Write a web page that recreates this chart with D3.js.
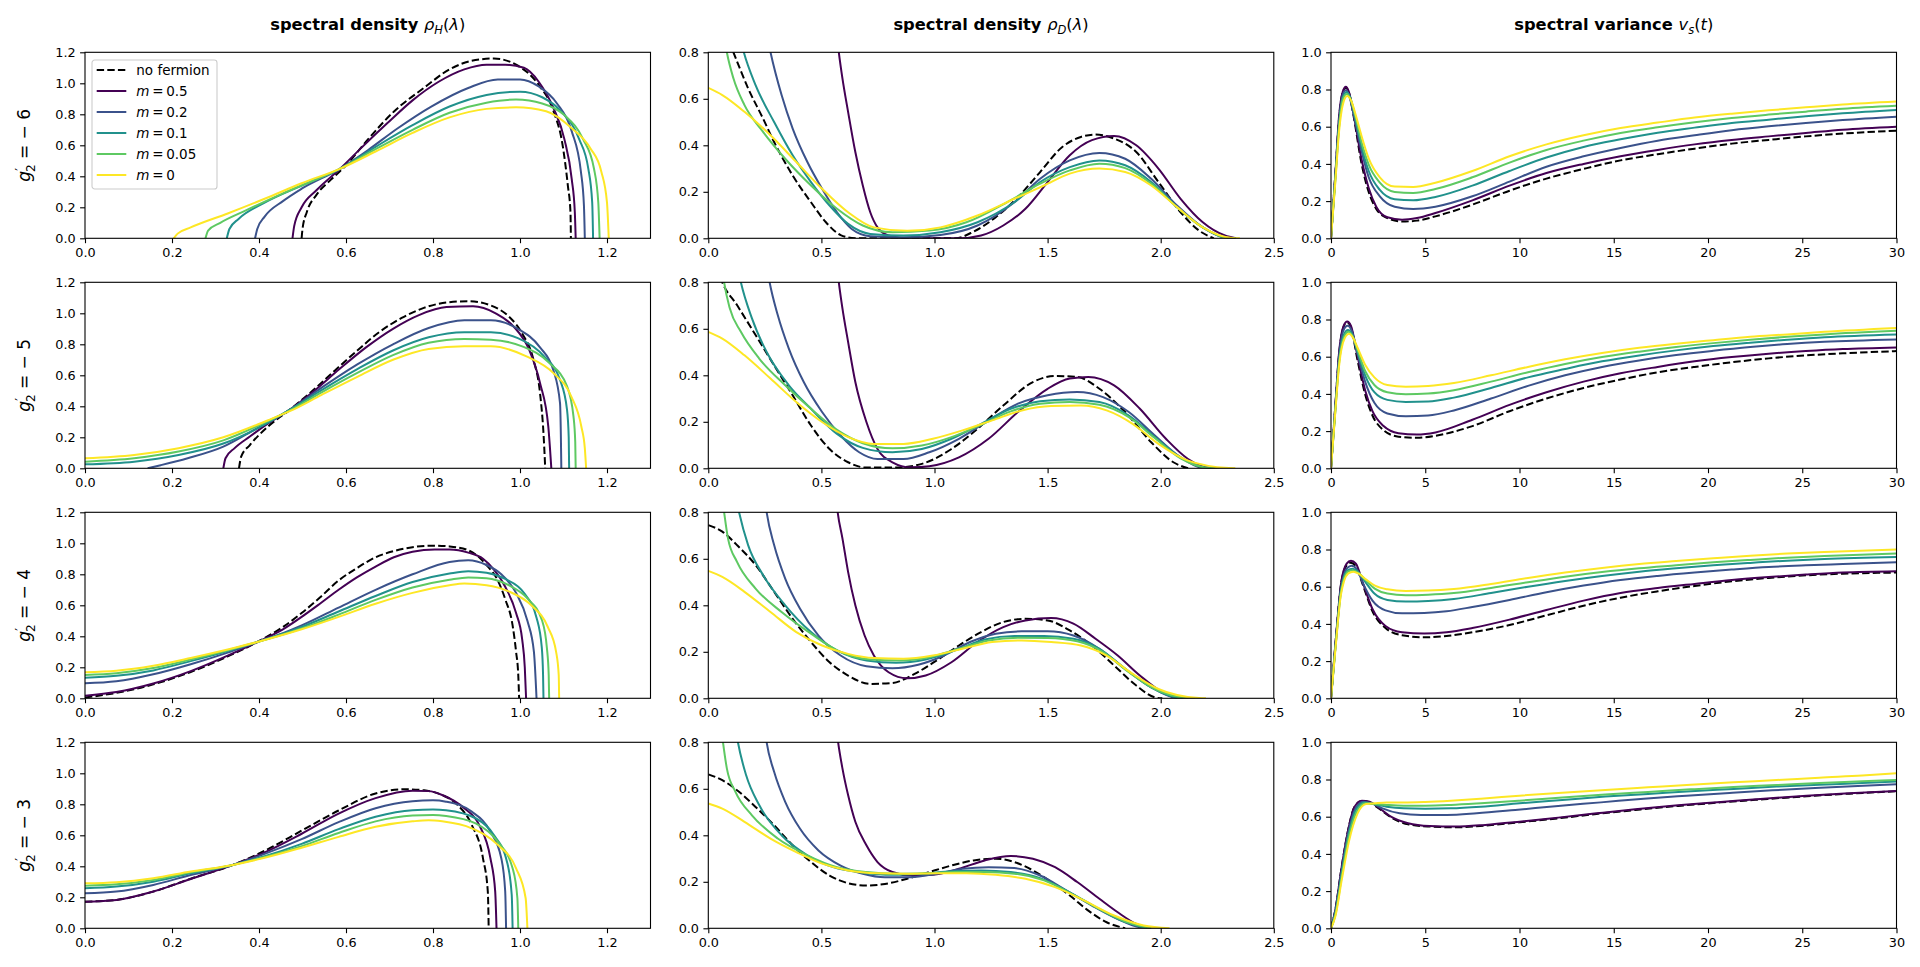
<!DOCTYPE html>
<html><head><meta charset="utf-8">
<script src="https://cdn.jsdelivr.net/npm/d3@7"></script>
<style>body{margin:0;background:#fff}svg{display:block}text{font-family:"DejaVu Sans",sans-serif}</style>
</head><body><svg id="c" width="1920" height="967"></svg>
<script>
// ---------- series meta ----------
const seriesNames = ['no fermion', '0.5', '0.2', '0.1', '0.05', '0'];
const seriesColors = ['#000000', '#440154', '#3b528b', '#21918c', '#5ec962', '#fde725'];
const rowLabels = ['6', '5', '4', '3'];

// ---------- ticks ----------
const ticksH_x = [0, 0.2, 0.4, 0.6, 0.8, 1.0, 1.2];
const ticksH_y = [0, 0.2, 0.4, 0.6, 0.8, 1.0, 1.2];
const ticksD_x = [0, 0.5, 1.0, 1.5, 2.0, 2.5];
const ticksD_y = [0, 0.2, 0.4, 0.6, 0.8];
const ticksV_x = [0, 5, 10, 15, 20, 25, 30];
const ticksV_y = [0, 0.2, 0.4, 0.6, 0.8, 1.0];

// ---------- rho_H, g2' = -6 ----------
const H6_nf = [[0.498,0],[0.5,0.06],[0.51,0.17],[0.532,0.28],[0.566,0.38],[0.6,0.47],[0.651,0.64],[0.711,0.82],[0.779,0.97],[0.838,1.09],[0.889,1.145],[0.94,1.16],[0.991,1.12],[1.043,0.99],[1.077,0.82],[1.098,0.6],[1.11,0.34],[1.116,0.17],[1.117,0]];
const H6_m05 = [[0.477,0],[0.481,0.08],[0.498,0.2],[0.532,0.31],[0.587,0.45],[0.634,0.58],[0.694,0.74],[0.753,0.89],[0.813,1.01],[0.872,1.09],[0.923,1.12],[0.966,1.12],[1.009,1.1],[1.043,1.01],[1.077,0.84],[1.102,0.64],[1.119,0.38],[1.126,0.17],[1.128,0]];
const H6_m02 = [[0.391,0],[0.396,0.06],[0.413,0.14],[0.455,0.24],[0.498,0.32],[0.587,0.45],[0.651,0.57],[0.719,0.71],[0.796,0.85],[0.881,0.97],[0.949,1.025],[1.0,1.025],[1.043,0.98],[1.085,0.87],[1.119,0.69],[1.14,0.43],[1.147,0.21],[1.149,0]];
const H6_m01 = [[0.326,0],[0.332,0.06],[0.353,0.125],[0.413,0.23],[0.498,0.34],[0.587,0.45],[0.668,0.59],[0.753,0.73],[0.838,0.85],[0.923,0.925],[1.0,0.946],[1.051,0.91],[1.094,0.82],[1.136,0.64],[1.157,0.45],[1.166,0.23],[1.168,0]];
const H6_m005 = [[0.277,0],[0.283,0.05],[0.311,0.1],[0.37,0.18],[0.455,0.29],[0.587,0.45],[0.668,0.575],[0.753,0.7],[0.838,0.81],[0.923,0.875],[0.991,0.895],[1.051,0.87],[1.102,0.795],[1.145,0.64],[1.17,0.45],[1.18,0.23],[1.183,0]];
const H6_m0 = [[0.204,0],[0.213,0.03],[0.243,0.07],[0.328,0.16],[0.413,0.255],[0.498,0.355],[0.587,0.45],[0.668,0.56],[0.753,0.68],[0.838,0.78],[0.923,0.835],[0.991,0.845],[1.06,0.82],[1.119,0.71],[1.162,0.58],[1.187,0.43],[1.2,0.23],[1.204,0]];

// ---------- rho_H, g2' = -5 ----------
const H5_nf = [[0.354,0],[0.359,0.075],[0.379,0.15],[0.421,0.27],[0.472,0.38],[0.523,0.5],[0.574,0.63],[0.626,0.76],[0.677,0.88],[0.728,0.97],[0.779,1.035],[0.831,1.07],[0.882,1.078],[0.933,1.05],[0.974,0.98],[1.005,0.87],[1.031,0.7],[1.046,0.485],[1.054,0.226],[1.058,0]];
const H5_m05 = [[0.318,0],[0.323,0.065],[0.344,0.13],[0.379,0.205],[0.421,0.29],[0.472,0.38],[0.523,0.49],[0.585,0.64],[0.646,0.78],[0.708,0.9],[0.769,0.99],[0.831,1.04],[0.892,1.045],[0.944,1.0],[0.985,0.916],[1.021,0.765],[1.046,0.55],[1.065,0.27],[1.072,0]];
const H5_m02 = [[0.144,0],[0.174,0.02],[0.236,0.065],[0.318,0.14],[0.39,0.25],[0.472,0.38],[0.544,0.52],[0.626,0.67],[0.708,0.8],[0.79,0.905],[0.872,0.955],[0.933,0.955],[0.995,0.9],[1.046,0.78],[1.077,0.63],[1.092,0.42],[1.094,0.2],[1.095,0]];
const H5_m01 = [[0,0.026],[0.113,0.043],[0.215,0.086],[0.318,0.16],[0.421,0.295],[0.472,0.38],[0.544,0.505],[0.626,0.64],[0.708,0.76],[0.79,0.845],[0.872,0.878],[0.933,0.877],[0.995,0.84],[1.056,0.72],[1.092,0.57],[1.108,0.38],[1.112,0.2],[1.113,0]];
const H5_m005 = [[0,0.043],[0.113,0.065],[0.215,0.108],[0.318,0.18],[0.421,0.305],[0.472,0.375],[0.544,0.49],[0.626,0.615],[0.708,0.73],[0.79,0.81],[0.872,0.835],[0.933,0.83],[1.005,0.787],[1.067,0.68],[1.108,0.53],[1.123,0.334],[1.127,0.17],[1.128,0]];
const H5_m0 = [[0,0.065],[0.113,0.086],[0.215,0.13],[0.318,0.2],[0.421,0.31],[0.472,0.37],[0.544,0.474],[0.626,0.59],[0.708,0.7],[0.79,0.77],[0.872,0.787],[0.933,0.787],[1.015,0.722],[1.077,0.614],[1.118,0.463],[1.141,0.27],[1.149,0.13],[1.152,0]];

// ---------- rho_H, g2' = -4 ----------
const H4_nf = [[0,0.005],[0.072,0.035],[0.157,0.09],[0.243,0.17],[0.328,0.27],[0.396,0.363],[0.455,0.46],[0.498,0.55],[0.54,0.65],[0.583,0.76],[0.625,0.84],[0.668,0.91],[0.71,0.95],[0.753,0.975],[0.804,0.985],[0.838,0.98],[0.881,0.955],[0.906,0.91],[0.923,0.86],[0.949,0.76],[0.966,0.64],[0.983,0.47],[0.991,0.3],[0.996,0.15],[0.998,0]];
const H4_m05 = [[0,0.017],[0.072,0.04],[0.157,0.095],[0.243,0.175],[0.328,0.275],[0.396,0.363],[0.455,0.445],[0.498,0.525],[0.54,0.61],[0.583,0.7],[0.625,0.78],[0.668,0.85],[0.71,0.91],[0.753,0.945],[0.804,0.96],[0.838,0.96],[0.881,0.94],[0.915,0.9],[0.94,0.83],[0.966,0.72],[0.991,0.55],[1.005,0.38],[1.011,0.2],[1.014,0]];
const H4_m02 = [[0,0.097],[0.072,0.11],[0.157,0.155],[0.243,0.22],[0.328,0.295],[0.396,0.363],[0.455,0.42],[0.498,0.47],[0.583,0.585],[0.668,0.7],[0.753,0.8],[0.838,0.88],[0.881,0.89],[0.923,0.86],[0.957,0.8],[0.991,0.68],[1.017,0.5],[1.032,0.3],[1.038,0]];
const H4_m01 = [[0,0.132],[0.072,0.145],[0.157,0.18],[0.243,0.24],[0.328,0.305],[0.396,0.363],[0.498,0.46],[0.583,0.56],[0.668,0.66],[0.753,0.75],[0.838,0.805],[0.881,0.82],[0.923,0.81],[0.966,0.77],[1.009,0.68],[1.038,0.52],[1.05,0.33],[1.053,0.15],[1.054,0]];
const H4_m005 = [[0,0.151],[0.072,0.162],[0.157,0.195],[0.243,0.25],[0.328,0.31],[0.396,0.363],[0.498,0.45],[0.583,0.54],[0.668,0.635],[0.753,0.715],[0.838,0.765],[0.881,0.78],[0.923,0.775],[0.974,0.73],[1.017,0.645],[1.051,0.5],[1.062,0.32],[1.066,0.15],[1.067,0]];
const H4_m0 = [[0,0.168],[0.072,0.178],[0.157,0.21],[0.243,0.26],[0.328,0.315],[0.396,0.363],[0.498,0.445],[0.583,0.525],[0.668,0.61],[0.753,0.68],[0.838,0.73],[0.872,0.74],[0.923,0.73],[0.974,0.69],[1.026,0.6],[1.064,0.46],[1.083,0.3],[1.089,0.15],[1.09,0]];

// ---------- rho_H, g2' = -3 ----------
const H3_nf = [[0,0.172],[0.072,0.183],[0.157,0.237],[0.243,0.32],[0.34,0.409],[0.413,0.5],[0.498,0.63],[0.583,0.76],[0.668,0.87],[0.736,0.897],[0.78,0.89],[0.821,0.86],[0.855,0.8],[0.889,0.667],[0.915,0.45],[0.926,0.237],[0.928,0]];
const H3_m05 = [[0,0.172],[0.072,0.183],[0.157,0.237],[0.243,0.318],[0.34,0.409],[0.413,0.49],[0.498,0.61],[0.583,0.74],[0.668,0.84],[0.753,0.888],[0.79,0.885],[0.821,0.86],[0.872,0.774],[0.906,0.667],[0.932,0.452],[0.943,0.237],[0.946,0]];
const H3_m02 = [[0,0.226],[0.072,0.237],[0.157,0.28],[0.243,0.344],[0.34,0.409],[0.413,0.48],[0.498,0.575],[0.583,0.685],[0.668,0.775],[0.753,0.82],[0.8,0.826],[0.83,0.817],[0.889,0.753],[0.932,0.624],[0.957,0.452],[0.966,0.237],[0.968,0]];
const H3_m01 = [[0,0.258],[0.072,0.269],[0.157,0.301],[0.243,0.355],[0.34,0.409],[0.413,0.465],[0.498,0.545],[0.583,0.64],[0.668,0.72],[0.753,0.762],[0.8,0.766],[0.83,0.761],[0.898,0.71],[0.94,0.602],[0.97,0.43],[0.981,0.215],[0.983,0]];
const H3_m005 = [[0,0.275],[0.072,0.284],[0.157,0.312],[0.243,0.361],[0.34,0.409],[0.413,0.46],[0.498,0.53],[0.583,0.615],[0.668,0.69],[0.753,0.727],[0.8,0.731],[0.83,0.725],[0.898,0.677],[0.949,0.559],[0.983,0.387],[0.994,0.194],[0.996,0]];
const H3_m0 = [[0,0.29],[0.072,0.297],[0.157,0.323],[0.243,0.366],[0.34,0.409],[0.413,0.455],[0.498,0.52],[0.583,0.59],[0.668,0.655],[0.753,0.69],[0.79,0.697],[0.821,0.69],[0.889,0.645],[0.949,0.538],[0.991,0.387],[1.013,0.194],[1.017,0]];

// ---------- rho_D, g2' = -6 ----------
const D6_nf = [[0,1.15],[0.05,0.95],[0.111,0.8],[0.176,0.645],[0.242,0.515],[0.291,0.414],[0.373,0.27],[0.454,0.155],[0.52,0.069],[0.585,0.014],[0.65,0],[1.092,0],[1.173,0.029],[1.271,0.091],[1.369,0.177],[1.467,0.285],[1.565,0.393],[1.647,0.436],[1.712,0.446],[1.794,0.429],[1.892,0.371],[1.99,0.242],[2.088,0.112],[2.17,0.033],[2.235,0]];
const D6_m05 = [[0.555,1.0],[0.577,0.8],[0.593,0.688],[0.618,0.544],[0.65,0.371],[0.683,0.227],[0.716,0.112],[0.748,0.047],[0.797,0.012],[0.879,0],[1.108,0],[1.206,0.012],[1.304,0.055],[1.402,0.127],[1.5,0.242],[1.598,0.357],[1.696,0.422],[1.794,0.44],[1.892,0.4],[1.99,0.3],[2.088,0.17],[2.186,0.069],[2.284,0.012],[2.333,0]];
const D6_m02 = [[0.25,0.92],[0.275,0.8],[0.324,0.616],[0.373,0.472],[0.438,0.328],[0.503,0.213],[0.569,0.112],[0.634,0.04],[0.716,0.009],[0.863,0.004],[1.026,0.014],[1.19,0.055],[1.353,0.155],[1.467,0.256],[1.598,0.335],[1.729,0.367],[1.843,0.342],[1.958,0.256],[2.072,0.141],[2.186,0.047],[2.284,0.003],[2.32,0]];
const D6_m01 = [[0.127,0.92],[0.157,0.8],[0.209,0.659],[0.291,0.5],[0.373,0.357],[0.454,0.242],[0.536,0.141],[0.618,0.062],[0.716,0.019],[0.863,0.012],[1.026,0.026],[1.19,0.069],[1.353,0.155],[1.467,0.242],[1.598,0.306],[1.729,0.335],[1.843,0.314],[1.958,0.242],[2.072,0.134],[2.186,0.047],[2.284,0.003],[2.33,0]];
const D6_m005 = [[0.062,0.92],[0.082,0.8],[0.111,0.688],[0.16,0.573],[0.242,0.458],[0.34,0.342],[0.454,0.227],[0.569,0.127],[0.683,0.055],[0.814,0.026],[0.977,0.033],[1.141,0.069],[1.32,0.155],[1.467,0.235],[1.598,0.292],[1.729,0.321],[1.843,0.302],[1.958,0.235],[2.072,0.134],[2.186,0.047],[2.3,0.001],[2.33,0]];
const D6_m0 = [[0,0.647],[0.062,0.616],[0.16,0.544],[0.275,0.443],[0.389,0.328],[0.503,0.213],[0.618,0.112],[0.732,0.047],[0.879,0.032],[1.026,0.047],[1.19,0.098],[1.353,0.17],[1.484,0.227],[1.598,0.278],[1.729,0.3],[1.843,0.285],[1.958,0.227],[2.072,0.134],[2.186,0.047],[2.317,0.001],[2.35,0]];

// ---------- rho_D, g2' = -5 ----------
const D5_nf = [[0,1.0],[0.03,0.89],[0.062,0.8],[0.127,0.702],[0.209,0.573],[0.291,0.443],[0.373,0.314],[0.454,0.184],[0.536,0.083],[0.618,0.026],[0.699,0.003],[0.83,0.003],[0.944,0.019],[1.075,0.083],[1.19,0.17],[1.304,0.27],[1.435,0.371],[1.533,0.397],[1.631,0.393],[1.729,0.342],[1.843,0.242],[1.958,0.112],[2.056,0.026],[2.121,0]];
const D5_m05 = [[0.555,1.0],[0.577,0.8],[0.593,0.688],[0.618,0.544],[0.65,0.371],[0.699,0.199],[0.748,0.083],[0.814,0.026],[0.895,0.004],[0.977,0.009],[1.108,0.047],[1.239,0.127],[1.369,0.242],[1.5,0.342],[1.598,0.386],[1.68,0.393],[1.794,0.357],[1.908,0.256],[2.023,0.127],[2.121,0.04],[2.219,0.001],[2.25,0]];
const D5_m02 = [[0.25,0.92],[0.271,0.8],[0.307,0.659],[0.356,0.515],[0.422,0.371],[0.503,0.242],[0.585,0.141],[0.667,0.069],[0.748,0.04],[0.863,0.04],[0.977,0.069],[1.108,0.127],[1.239,0.206],[1.369,0.278],[1.5,0.314],[1.631,0.328],[1.745,0.306],[1.859,0.242],[1.974,0.141],[2.088,0.047],[2.186,0.001],[2.22,0]];
const D5_m01 = [[0.119,0.92],[0.144,0.8],[0.193,0.645],[0.258,0.5],[0.356,0.357],[0.454,0.256],[0.569,0.148],[0.683,0.088],[0.814,0.069],[0.944,0.083],[1.075,0.127],[1.206,0.191],[1.337,0.256],[1.467,0.288],[1.598,0.296],[1.729,0.285],[1.859,0.227],[1.974,0.134],[2.088,0.047],[2.203,0.001],[2.24,0]];
const D5_m005 = [[0.054,0.92],[0.07,0.8],[0.095,0.688],[0.144,0.587],[0.225,0.472],[0.34,0.357],[0.454,0.256],[0.569,0.165],[0.683,0.108],[0.814,0.086],[0.944,0.098],[1.075,0.134],[1.206,0.187],[1.337,0.245],[1.467,0.278],[1.598,0.285],[1.729,0.273],[1.859,0.22],[1.974,0.13],[2.088,0.043],[2.219,0.001],[2.26,0]];
const D5_m0 = [[0,0.587],[0.062,0.558],[0.16,0.486],[0.275,0.386],[0.389,0.285],[0.503,0.199],[0.618,0.134],[0.732,0.105],[0.863,0.105],[0.993,0.127],[1.124,0.163],[1.255,0.206],[1.386,0.249],[1.516,0.268],[1.647,0.27],[1.761,0.249],[1.876,0.191],[1.99,0.105],[2.121,0.033],[2.301,0.001],[2.33,0]];

// ---------- rho_D, g2' = -4 ----------
const D4_nf = [[0,0.745],[0.062,0.717],[0.127,0.659],[0.209,0.573],[0.291,0.458],[0.373,0.342],[0.454,0.242],[0.536,0.155],[0.618,0.098],[0.716,0.062],[0.814,0.066],[0.912,0.105],[1.01,0.163],[1.108,0.227],[1.206,0.285],[1.304,0.328],[1.402,0.342],[1.5,0.335],[1.598,0.292],[1.696,0.227],[1.794,0.141],[1.892,0.055],[1.974,0.004],[2.007,0]];
const D4_m05 = [[0.556,0.95],[0.572,0.8],[0.593,0.688],[0.618,0.544],[0.65,0.4],[0.691,0.27],[0.732,0.184],[0.797,0.112],[0.879,0.086],[0.961,0.098],[1.075,0.155],[1.19,0.242],[1.304,0.306],[1.402,0.335],[1.516,0.345],[1.614,0.321],[1.712,0.256],[1.81,0.184],[1.908,0.098],[2.007,0.026],[2.072,0]];
const D4_m02 = [[0.242,0.92],[0.258,0.8],[0.291,0.659],[0.34,0.515],[0.405,0.386],[0.487,0.27],[0.585,0.184],[0.699,0.138],[0.814,0.129],[0.928,0.144],[1.042,0.184],[1.157,0.242],[1.271,0.278],[1.386,0.288],[1.5,0.288],[1.614,0.27],[1.729,0.213],[1.843,0.127],[1.958,0.047],[2.072,0.001],[2.1,0]];
const D4_m01 = [[0.111,0.92],[0.136,0.8],[0.176,0.659],[0.242,0.53],[0.34,0.4],[0.454,0.285],[0.569,0.206],[0.699,0.163],[0.83,0.153],[0.961,0.167],[1.092,0.206],[1.222,0.253],[1.353,0.268],[1.484,0.268],[1.614,0.256],[1.729,0.213],[1.843,0.127],[1.958,0.047],[2.088,0.001],[2.12,0]];
const D4_m005 = [[0.054,0.92],[0.07,0.8],[0.087,0.688],[0.127,0.587],[0.209,0.472],[0.324,0.371],[0.454,0.278],[0.585,0.199],[0.716,0.167],[0.846,0.163],[0.977,0.177],[1.108,0.213],[1.239,0.249],[1.369,0.26],[1.5,0.259],[1.631,0.245],[1.745,0.199],[1.859,0.112],[1.974,0.04],[2.121,0.001],[2.15,0]];
const D4_m0 = [[0,0.548],[0.062,0.522],[0.16,0.458],[0.275,0.371],[0.389,0.285],[0.503,0.227],[0.618,0.191],[0.732,0.173],[0.863,0.17],[0.993,0.184],[1.124,0.213],[1.255,0.242],[1.386,0.249],[1.516,0.242],[1.647,0.227],[1.761,0.184],[1.876,0.105],[1.99,0.04],[2.17,0.001],[2.2,0]];

// ---------- rho_D, g2' = -3 ----------
const D3_nf = [[0,0.662],[0.062,0.637],[0.127,0.594],[0.209,0.522],[0.291,0.443],[0.373,0.357],[0.454,0.285],[0.536,0.227],[0.618,0.194],[0.699,0.184],[0.781,0.191],[0.879,0.213],[0.977,0.242],[1.075,0.27],[1.173,0.292],[1.271,0.299],[1.353,0.285],[1.435,0.249],[1.516,0.199],[1.598,0.141],[1.68,0.076],[1.761,0.026],[1.843,0]];
const D3_m05 = [[0.556,0.95],[0.574,0.8],[0.593,0.688],[0.618,0.573],[0.65,0.458],[0.699,0.357],[0.748,0.285],[0.814,0.242],[0.895,0.227],[0.993,0.23],[1.108,0.256],[1.222,0.292],[1.337,0.311],[1.435,0.299],[1.533,0.263],[1.631,0.199],[1.729,0.127],[1.81,0.069],[1.892,0.019],[1.958,0]];
const D3_m02 = [[0.242,0.92],[0.258,0.8],[0.291,0.673],[0.34,0.544],[0.405,0.429],[0.487,0.335],[0.585,0.27],[0.683,0.235],[0.781,0.22],[0.895,0.22],[1.01,0.235],[1.124,0.256],[1.239,0.263],[1.353,0.259],[1.467,0.227],[1.582,0.163],[1.696,0.098],[1.81,0.04],[1.908,0.004],[1.958,0]];
const D3_m01 = [[0.111,0.92],[0.131,0.8],[0.167,0.659],[0.225,0.53],[0.324,0.4],[0.438,0.314],[0.552,0.263],[0.683,0.239],[0.814,0.23],[0.944,0.235],[1.075,0.245],[1.206,0.249],[1.337,0.242],[1.467,0.216],[1.598,0.155],[1.712,0.091],[1.827,0.033],[1.941,0]];
const D3_m005 = [[0.05,0.92],[0.065,0.8],[0.082,0.688],[0.12,0.587],[0.193,0.486],[0.307,0.386],[0.438,0.314],[0.569,0.263],[0.699,0.242],[0.83,0.235],[0.961,0.237],[1.092,0.242],[1.222,0.242],[1.353,0.235],[1.484,0.206],[1.614,0.144],[1.729,0.083],[1.843,0.029],[1.958,0]];
const D3_m0 = [[0,0.537],[0.062,0.515],[0.16,0.458],[0.275,0.386],[0.389,0.328],[0.503,0.278],[0.618,0.249],[0.748,0.237],[0.879,0.235],[1.01,0.237],[1.141,0.237],[1.271,0.23],[1.402,0.213],[1.533,0.177],[1.663,0.119],[1.794,0.055],[1.925,0.012],[2.039,0]];

// ---------- v_s, g2' = -6 ----------
const V6_nf = [[0,0],[0.24,0.36],[0.43,0.645],[0.63,0.787],[0.79,0.81],[0.94,0.787],[1.22,0.645],[1.61,0.407],[2.0,0.249],[2.4,0.158],[2.99,0.109],[3.77,0.09],[4.56,0.095],[5.54,0.118],[7.5,0.181],[9.47,0.256],[11.43,0.321],[13.4,0.373],[15.36,0.419],[17.33,0.452],[19.29,0.482],[21.26,0.509],[23.22,0.529],[25.19,0.548],[27.15,0.563],[30,0.579]];
const V6_m05 = [[0,0],[0.24,0.36],[0.43,0.66],[0.63,0.79],[0.79,0.815],[0.94,0.79],[1.22,0.656],[1.61,0.43],[2.0,0.27],[2.4,0.17],[2.99,0.113],[3.77,0.1],[4.56,0.109],[5.54,0.136],[7.5,0.204],[9.47,0.283],[11.43,0.351],[13.4,0.4],[15.36,0.441],[17.33,0.475],[19.29,0.505],[21.26,0.529],[23.22,0.548],[25.19,0.566],[27.15,0.584],[30,0.6]];
const V6_m02 = [[0,0],[0.24,0.35],[0.43,0.633],[0.63,0.774],[0.79,0.796],[0.94,0.774],[1.22,0.656],[1.61,0.475],[2.0,0.328],[2.59,0.226],[3.38,0.17],[4.36,0.158],[5.54,0.17],[7.5,0.226],[9.47,0.305],[11.43,0.385],[13.4,0.441],[15.36,0.486],[17.33,0.525],[19.29,0.554],[21.26,0.581],[23.22,0.602],[25.19,0.62],[27.15,0.636],[30,0.654]];
const V6_m01 = [[0,0],[0.24,0.34],[0.43,0.61],[0.63,0.758],[0.83,0.787],[1.02,0.758],[1.32,0.633],[1.61,0.498],[2.0,0.362],[2.59,0.26],[3.38,0.21],[4.36,0.204],[5.54,0.222],[7.5,0.283],[9.47,0.362],[11.43,0.434],[13.4,0.491],[15.36,0.532],[17.33,0.568],[19.29,0.595],[21.26,0.62],[23.22,0.638],[25.19,0.656],[27.15,0.672],[30,0.69]];
const V6_m005 = [[0,0],[0.24,0.328],[0.43,0.6],[0.63,0.747],[0.83,0.776],[1.02,0.751],[1.32,0.645],[1.61,0.52],[2.0,0.396],[2.59,0.299],[3.38,0.249],[4.36,0.244],[5.54,0.265],[7.5,0.328],[9.47,0.407],[11.43,0.475],[13.4,0.525],[15.36,0.566],[17.33,0.597],[19.29,0.624],[21.26,0.647],[23.22,0.665],[25.19,0.681],[27.15,0.697],[30,0.713]];
const V6_m0 = [[0,0],[0.24,0.317],[0.43,0.577],[0.67,0.735],[0.86,0.765],[1.06,0.742],[1.36,0.645],[1.61,0.554],[2.0,0.43],[2.59,0.328],[3.38,0.278],[4.36,0.276],[5.54,0.299],[7.5,0.362],[9.47,0.441],[11.43,0.505],[13.4,0.554],[15.36,0.593],[17.33,0.622],[19.29,0.649],[21.26,0.67],[23.22,0.688],[25.19,0.704],[27.15,0.719],[30,0.735]];

// ---------- v_s, g2' = -5 ----------
const V5_nf = [[0,0],[0.24,0.352],[0.43,0.614],[0.67,0.761],[0.86,0.784],[1.06,0.757],[1.41,0.58],[1.81,0.398],[2.2,0.284],[2.79,0.205],[3.58,0.17],[4.56,0.164],[5.54,0.175],[7.5,0.227],[9.47,0.307],[11.43,0.375],[13.4,0.432],[15.36,0.477],[17.33,0.516],[19.29,0.545],[21.26,0.57],[23.22,0.591],[25.19,0.607],[27.15,0.618],[30,0.63]];
const V5_m05 = [[0,0],[0.24,0.352],[0.43,0.625],[0.67,0.766],[0.86,0.789],[1.06,0.766],[1.41,0.602],[1.81,0.42],[2.2,0.307],[2.79,0.227],[3.58,0.189],[4.56,0.182],[5.54,0.193],[7.5,0.261],[9.47,0.341],[11.43,0.409],[13.4,0.466],[15.36,0.511],[17.33,0.545],[19.29,0.575],[21.26,0.598],[23.22,0.616],[25.19,0.63],[27.15,0.641],[30,0.65]];
const V5_m02 = [[0,0],[0.24,0.341],[0.43,0.602],[0.67,0.743],[0.88,0.766],[1.1,0.739],[1.41,0.614],[1.81,0.466],[2.3,0.352],[2.99,0.295],[3.97,0.28],[5.15,0.284],[6.52,0.311],[8.49,0.375],[10.45,0.443],[12.42,0.5],[14.38,0.545],[16.35,0.58],[18.31,0.609],[20.28,0.632],[22.24,0.652],[24.2,0.668],[26.17,0.68],[30,0.693]];
const V5_m01 = [[0,0],[0.24,0.33],[0.43,0.58],[0.69,0.72],[0.9,0.743],[1.12,0.72],[1.41,0.625],[1.81,0.5],[2.3,0.409],[2.99,0.368],[3.97,0.357],[5.15,0.359],[6.52,0.38],[8.49,0.432],[10.45,0.489],[12.42,0.534],[14.38,0.575],[16.35,0.607],[18.31,0.634],[20.28,0.657],[22.24,0.675],[24.2,0.691],[26.17,0.705],[30,0.72]];
const V5_m005 = [[0,0],[0.24,0.325],[0.43,0.568],[0.71,0.711],[0.92,0.734],[1.14,0.711],[1.41,0.636],[1.81,0.523],[2.3,0.448],[2.99,0.409],[3.97,0.398],[5.15,0.402],[6.52,0.42],[8.49,0.466],[10.45,0.516],[12.42,0.561],[14.38,0.598],[16.35,0.627],[18.31,0.652],[20.28,0.673],[22.24,0.691],[24.2,0.707],[26.17,0.72],[30,0.739]];
const V5_m0 = [[0,0],[0.24,0.318],[0.43,0.552],[0.73,0.7],[0.96,0.723],[1.18,0.7],[1.41,0.648],[1.81,0.557],[2.3,0.489],[2.99,0.448],[3.97,0.439],[5.15,0.443],[6.52,0.459],[8.49,0.5],[10.45,0.545],[12.42,0.586],[14.38,0.62],[16.35,0.648],[18.31,0.67],[20.28,0.689],[22.24,0.707],[24.2,0.72],[26.17,0.734],[30,0.755]];

// ---------- v_s, g2' = -4 ----------
const V4_nf = [[0,0],[0.24,0.299],[0.53,0.611],[0.83,0.715],[1.06,0.729],[1.32,0.71],[1.71,0.604],[2.2,0.468],[2.89,0.378],[3.77,0.339],[4.95,0.328],[6.13,0.335],[7.5,0.355],[9.47,0.394],[11.43,0.446],[13.4,0.498],[15.36,0.541],[17.33,0.575],[19.29,0.604],[21.26,0.629],[23.22,0.647],[25.19,0.661],[27.15,0.67],[30,0.676]];
const V4_m05 = [[0,0],[0.24,0.299],[0.53,0.615],[0.83,0.724],[1.06,0.74],[1.32,0.724],[1.71,0.615],[2.2,0.48],[2.89,0.389],[3.77,0.355],[4.95,0.348],[6.13,0.355],[7.5,0.378],[9.47,0.423],[11.43,0.475],[13.4,0.525],[15.36,0.566],[17.33,0.593],[19.29,0.615],[21.26,0.636],[23.22,0.652],[25.19,0.665],[27.15,0.676],[30,0.683]];
const V4_m02 = [[0,0],[0.24,0.287],[0.53,0.593],[0.86,0.701],[1.1,0.713],[1.36,0.695],[1.71,0.615],[2.2,0.525],[2.89,0.473],[3.77,0.457],[4.95,0.459],[6.13,0.468],[7.5,0.491],[9.47,0.529],[11.43,0.57],[13.4,0.606],[15.36,0.636],[17.33,0.658],[19.29,0.676],[21.26,0.692],[23.22,0.706],[25.19,0.715],[27.15,0.722],[30,0.731]];
const V4_m01 = [[0,0],[0.24,0.281],[0.53,0.581],[0.88,0.688],[1.14,0.697],[1.41,0.683],[1.81,0.627],[2.3,0.563],[2.99,0.529],[3.97,0.52],[5.15,0.523],[6.52,0.534],[8.49,0.566],[10.45,0.6],[12.42,0.631],[14.38,0.658],[16.35,0.681],[18.31,0.699],[20.28,0.715],[22.24,0.728],[24.2,0.74],[26.17,0.749],[30,0.76]];
const V4_m005 = [[0,0],[0.24,0.276],[0.53,0.57],[0.9,0.681],[1.16,0.688],[1.45,0.674],[1.85,0.633],[2.34,0.588],[2.99,0.563],[3.97,0.554],[5.15,0.557],[6.52,0.566],[8.49,0.593],[10.45,0.624],[12.42,0.654],[14.38,0.679],[16.35,0.699],[18.31,0.715],[20.28,0.731],[22.24,0.744],[24.2,0.756],[26.17,0.765],[30,0.778]];
const V4_m0 = [[0,0],[0.24,0.269],[0.53,0.559],[0.92,0.672],[1.18,0.681],[1.47,0.67],[1.87,0.638],[2.36,0.604],[2.99,0.586],[3.97,0.577],[5.15,0.579],[6.52,0.588],[8.49,0.615],[10.45,0.647],[12.42,0.676],[14.38,0.701],[16.35,0.722],[18.31,0.738],[20.28,0.753],[22.24,0.767],[24.2,0.778],[26.17,0.787],[30,0.8]];

// ---------- v_s, g2' = -3 ----------
const V3_nf = [[0,0],[0.23,0.099],[0.57,0.332],[0.91,0.529],[1.25,0.654],[1.64,0.685],[2.05,0.677],[2.5,0.647],[3.18,0.597],[4.09,0.559],[5.23,0.547],[6.59,0.543],[8.18,0.552],[10.0,0.57],[12.05,0.591],[14.09,0.615],[16.14,0.636],[18.41,0.658],[20.68,0.677],[22.95,0.694],[25.23,0.71],[27.5,0.724],[30,0.737]];
const V3_m05 = [[0,0],[0.23,0.099],[0.57,0.332],[0.91,0.529],[1.25,0.654],[1.64,0.686],[2.05,0.681],[2.5,0.651],[3.18,0.6],[4.09,0.565],[5.23,0.55],[6.59,0.547],[8.18,0.556],[10.0,0.573],[12.05,0.595],[14.09,0.618],[16.14,0.64],[18.41,0.661],[20.68,0.679],[22.95,0.697],[25.23,0.713],[27.5,0.726],[30,0.738]];
const V3_m02 = [[0,0],[0.23,0.09],[0.57,0.314],[0.91,0.511],[1.3,0.645],[1.7,0.681],[2.16,0.672],[2.73,0.645],[3.64,0.618],[4.77,0.609],[6.14,0.609],[7.73,0.618],[9.77,0.636],[12.05,0.658],[14.32,0.677],[16.59,0.697],[18.86,0.713],[21.14,0.728],[23.41,0.742],[25.68,0.754],[27.95,0.765],[30,0.774]];
const V3_m01 = [[0,0],[0.23,0.081],[0.57,0.296],[0.91,0.493],[1.32,0.636],[1.77,0.676],[2.27,0.668],[2.95,0.654],[3.86,0.645],[5.0,0.643],[6.36,0.645],[7.95,0.654],[10.0,0.672],[12.27,0.69],[14.55,0.708],[16.82,0.722],[19.09,0.737],[21.36,0.749],[23.64,0.762],[25.91,0.772],[28.18,0.781],[30,0.789]];
const V3_m005 = [[0,0],[0.23,0.072],[0.57,0.278],[0.91,0.475],[1.36,0.627],[1.82,0.672],[2.27,0.668],[2.95,0.663],[3.86,0.659],[5.0,0.659],[6.36,0.663],[7.95,0.672],[10.0,0.686],[12.27,0.703],[14.55,0.719],[16.82,0.733],[19.09,0.747],[21.36,0.76],[23.64,0.77],[25.91,0.781],[28.18,0.79],[30,0.797]];
const V3_m0 = [[0,0],[0.23,0.063],[0.57,0.26],[0.95,0.466],[1.41,0.618],[1.86,0.668],[2.32,0.672],[2.95,0.676],[3.86,0.676],[5.0,0.679],[6.36,0.686],[7.95,0.697],[10.0,0.713],[12.27,0.729],[14.55,0.744],[16.82,0.758],[19.09,0.772],[21.36,0.785],[23.64,0.797],[25.91,0.81],[28.18,0.821],[30,0.833]];

// ---------- assemble ----------
const grid = [
  [[H6_nf,H6_m05,H6_m02,H6_m01,H6_m005,H6_m0],[D6_nf,D6_m05,D6_m02,D6_m01,D6_m005,D6_m0],[V6_nf,V6_m05,V6_m02,V6_m01,V6_m005,V6_m0]],
  [[H5_nf,H5_m05,H5_m02,H5_m01,H5_m005,H5_m0],[D5_nf,D5_m05,D5_m02,D5_m01,D5_m005,D5_m0],[V5_nf,V5_m05,V5_m02,V5_m01,V5_m005,V5_m0]],
  [[H4_nf,H4_m05,H4_m02,H4_m01,H4_m005,H4_m0],[D4_nf,D4_m05,D4_m02,D4_m01,D4_m005,D4_m0],[V4_nf,V4_m05,V4_m02,V4_m01,V4_m005,V4_m0]],
  [[H3_nf,H3_m05,H3_m02,H3_m01,H3_m005,H3_m0],[D3_nf,D3_m05,D3_m02,D3_m01,D3_m005,D3_m0],[V3_nf,V3_m05,V3_m02,V3_m01,V3_m005,V3_m0]]
];
const colCfg = [
  {xd:[0,1.3], yd:[0,1.2], xt:ticksH_x, yt:ticksH_y, xf:d3.format('.1f'), yf:d3.format('.1f')},
  {xd:[0,2.5], yd:[0,0.8], xt:ticksD_x, yt:ticksD_y, xf:d3.format('.1f'), yf:d3.format('.1f')},
  {xd:[0,30],  yd:[0,1.0], xt:ticksV_x, yt:ticksV_y, xf:d3.format('d'),   yf:d3.format('.1f')}
];

// ---------- layout ----------
const colLeft = [85, 708.3, 1331], colW = 565.5;
const rowTop = [52.3, 282.3, 512.3, 742.3], rowH = 186;
const tickFont = 12.8, lw = 2.0, dash = '7.4,3.2';

const svg = d3.select('#c');
const defs = svg.append('defs');

grid.forEach((rowData, r) => {
  rowData.forEach((panel, c) => {
    const cfg = colCfg[c];
    const L = colLeft[c], T = rowTop[r];
    const x = d3.scaleLinear().domain(cfg.xd).range([L, L + colW]);
    const y = d3.scaleLinear().domain(cfg.yd).range([T + rowH, T]);
    const cid = `clip-${r}-${c}`;
    defs.append('clipPath').attr('id', cid).append('rect')
      .attr('x', L).attr('y', T).attr('width', colW).attr('height', rowH);
    const line = d3.line().x(d => x(d[0])).y(d => y(d[1])).curve(d3.curveMonotoneX);
    const g = svg.append('g').attr('clip-path', `url(#${cid})`);
    panel.forEach((data, s) => {
      g.append('path').attr('d', line(data)).attr('fill', 'none')
        .attr('stroke', seriesColors[s]).attr('stroke-width', lw)
        .attr('stroke-dasharray', s === 0 ? dash : null)
        .attr('stroke-linejoin', 'round');
    });
    const ax = svg.append('g').attr('transform', `translate(0,${T + rowH})`)
      .call(d3.axisBottom(x).tickValues(cfg.xt).tickFormat(cfg.xf).tickSize(4.9).tickPadding(4.4).tickSizeOuter(0));
    const ay = svg.append('g').attr('transform', `translate(${L},0)`)
      .call(d3.axisLeft(y).tickValues(cfg.yt).tickFormat(cfg.yf).tickSize(4.9).tickPadding(4.4).tickSizeOuter(0));
    [ax, ay].forEach(a => {
      a.select('.domain').remove();
      a.attr('font-family', '"DejaVu Sans", sans-serif').attr('font-size', tickFont);
      a.selectAll('line').attr('stroke', '#000').attr('stroke-width', 1.1);
      a.selectAll('text').attr('fill', '#000');
    });
    svg.append('rect').attr('x', L).attr('y', T).attr('width', colW).attr('height', rowH)
      .attr('fill', 'none').attr('stroke', '#000').attr('stroke-width', 1.1);
  });
  // row label g'_2 = -n
  const yc = rowTop[r] + rowH / 2;
  const t = svg.append('text').attr('transform', `translate(24.5,${yc}) rotate(-90)`)
    .attr('text-anchor', 'middle').attr('font-size', 17).attr('dy', '0.35em').attr('fill', '#000');
  t.append('tspan').attr('font-style', 'italic').text('g');
  t.append('tspan').attr('font-size', 12).attr('dy', -6.5).text('\u2032');
  t.append('tspan').attr('font-size', 12).attr('dx', -4).attr('dy', 11).text('2');
  t.append('tspan').attr('dy', -4.5).text(' = \u2212 ' + rowLabels[r]);
});

// ---------- column titles ----------
function title(cx, word, sym, sub, arg) {
  const t = svg.append('text').attr('x', cx).attr('y', 30).attr('text-anchor', 'middle')
    .attr('font-size', 16.3).attr('fill', '#000');
  t.append('tspan').attr('font-weight', 'bold').text(word + ' ');
  t.append('tspan').attr('font-style', 'italic').text(sym);
  t.append('tspan').attr('font-style', 'italic').attr('font-size', 11.5).attr('dy', 3.5).text(sub);
  t.append('tspan').attr('dy', -3.5).text('(');
  t.append('tspan').attr('font-style', 'italic').text(arg);
  t.append('tspan').text(')');
}
title(colLeft[0] + colW / 2, 'spectral density', '\u03c1', 'H', '\u03bb');
title(colLeft[1] + colW / 2, 'spectral density', '\u03c1', 'D', '\u03bb');
title(colLeft[2] + colW / 2, 'spectral variance', 'v', 's', 't');

// ---------- legend ----------
const lg = svg.append('g').attr('transform', `translate(${colLeft[0] + 7},${rowTop[0] + 7.7})`);
lg.append('rect').attr('width', 125).attr('height', 129).attr('rx', 2.8)
  .attr('fill', '#fff').attr('fill-opacity', 0.8).attr('stroke', '#cccccc').attr('stroke-width', 1.1);
seriesNames.forEach((nm, i) => {
  const cy = 10 + i * 21;
  lg.append('line').attr('x1', 4.7).attr('x2', 34.3).attr('y1', cy).attr('y2', cy)
    .attr('stroke', seriesColors[i]).attr('stroke-width', lw)
    .attr('stroke-dasharray', i === 0 ? dash : null);
  const t = lg.append('text').attr('x', 44.3).attr('y', cy + 4.8).attr('font-size', 13.5).attr('fill', '#000');
  if (i === 0) t.text(nm);
  else { t.append('tspan').attr('font-style', 'italic').text('m'); t.append('tspan').text('\u2009=\u2009' + nm); }
});
</script>
</body></html>
